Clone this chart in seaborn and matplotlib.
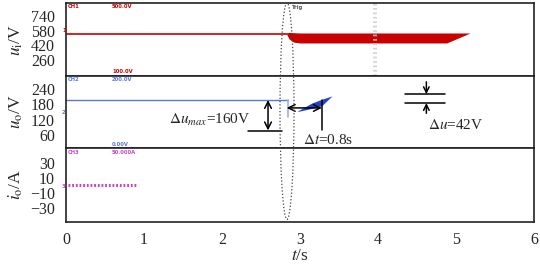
import numpy as np
import pandas as pd
import seaborn as sns
import matplotlib.pyplot as plt
from matplotlib.patches import Ellipse

# input voltage u_i (V)
t_ui = [0.0, 2.83]
ui = [545, 545]
t_band = [2.83, 2.86, 2.92, 3.0, 4.88, 5.18]
band_top = [555, 562, 558, 555, 555, 555]
band_bot = [540, 490, 455, 446, 446, 555]

# output voltage u_o (V)
t_uo = [0.0, 2.85]
uo = [197, 197]
t_drop = [2.85, 2.85]
uo_drop = [197, 130]
t_wedge = [2.97, 3.15, 3.28, 3.41]
wedge_top = [154, 185, 200, 213]
wedge_bot = [152, 164, 175, 213]

# output current i_o (A)
t_io = [0.02, 0.9]
io = [0, 0]

x_ticks = [0, 1, 2, 3, 4, 5, 6]
ui_ticks = [260, 420, 580, 740]
uo_ticks = [60, 120, 180, 240]
io_ticks = [-30, -10, 10, 30]

sns.set_style("white")
plt.rcParams['font.family'] = ['Liberation Serif', 'DejaVu Serif']
plt.rcParams['mathtext.fontset'] = 'stix'

fig = plt.figure(figsize=(5.4, 2.65), dpi=100)
L, W = 66 / 540, 468 / 540
ax1 = fig.add_axes([L, 1 - 76 / 265, W, 73 / 265])
ax2 = fig.add_axes([L, 1 - 148 / 265, W, 72 / 265])
ax3 = fig.add_axes([L, 1 - 222 / 265, W, 74 / 265])

red = "#c80000"
blue = "#5a78dc"
mag = "#cc44cc"

sns.lineplot(x=t_ui, y=ui, ax=ax1, color=red, lw=1.2)
ax1.fill_between(t_band, band_bot, band_top, color=red, lw=0)
ax1.axvline(3.95, color="#cccccc", ls=":", lw=1.2)
ax1.axvline(3.97, color="#cccccc", ls=":", lw=1.2)

sns.lineplot(x=t_uo, y=uo, ax=ax2, color=blue, lw=1.0)
ax2.plot(t_drop, uo_drop, color="#9fb0e8", lw=1.2)
ax2.fill_between(t_wedge, wedge_bot, wedge_top, color="#2244cc", lw=0)

ax3.plot(t_io, io, color=mag, lw=2.2, ls=(0, (0.6, 0.6)))

for ax, lim, ticks, lab in [(ax1, (86, 882), ui_ticks, r'$u_{\mathrm{i}}$/V'),
                            (ax2, (9, 291), uo_ticks, r'$u_{\mathrm{o}}$/V'),
                            (ax3, (-49, 50), io_ticks, r'$i_{\mathrm{o}}$/A')]:
    ax.set_xlim(0, 6)
    ax.set_ylim(*lim)
    ax.set_yticks(ticks)
    ax.set_ylabel(lab, fontsize=12.5)
    ax.tick_params(axis='y', direction='in', length=7, width=1, pad=8, labelsize=11.5)
    ax.tick_params(axis='x', direction='in', length=4, width=1, pad=7, labelsize=11.5)
    for s in ax.spines.values():
        s.set_color("#222222")
        s.set_linewidth(1.2)
    ax.yaxis.set_label_coords(-0.088, 0.5)

ax1.set_xticks([])
ax2.set_xticks([])
ax3.set_xticks(x_ticks)
ax3.set_xlabel(r'$t$/s', fontsize=12.5, labelpad=0)

# annotations on u_o panel
arw = dict(arrowstyle='<->', color='black', lw=1.1, mutation_scale=12, shrinkA=0, shrinkB=0)
ax2.annotate('', xy=(2.59, 197), xytext=(2.59, 78), arrowprops=arw)
ax2.plot([2.33, 2.77], [76, 76], color='black', lw=1.1)
ax2.text(2.37, 119, r'$\mathit{\Delta u_{max}}$=160V', fontsize=11, ha='right', va='center')
ax2.annotate('', xy=(2.83, 166), xytext=(3.28, 166), arrowprops=arw)
ax2.plot([3.28, 3.28], [197, 80], color='black', lw=1.1)
ax2.text(3.04, 40, r'$\mathit{\Delta t}$=0.8s', fontsize=11, ha='left', va='center')
ax2.plot([4.35, 4.86], [220, 220], color='black', lw=1.1)
ax2.plot([4.35, 4.86], [185, 185], color='black', lw=1.1)
one = dict(arrowstyle='->', color='black', lw=1.1, mutation_scale=10, shrinkA=0, shrinkB=0)
ax2.annotate('', xy=(4.62, 220), xytext=(4.62, 268), arrowprops=one)
ax2.annotate('', xy=(4.62, 185), xytext=(4.62, 145), arrowprops=one)
ax2.text(4.64, 99, r'$\mathit{\Delta u}$=42V', fontsize=11, ha='left', va='center')

# scope channel labels
sm = dict(fontsize=3.8, family='DejaVu Sans', fontweight='bold', va='center')
fig.text(68 / 540, 1 - 6 / 265, 'CH1', color=red, **sm)
fig.text(112 / 540, 1 - 6 / 265, '500.0V', color=red, **sm)
fig.text(112 / 540, 1 - 72 / 265, '100.0V', color=red, **sm)
fig.text(68 / 540, 1 - 80 / 265, 'CH2', color=blue, **sm)
fig.text(112 / 540, 1 - 80 / 265, '200.0V', color=blue, **sm)
fig.text(112 / 540, 1 - 144 / 265, '0.00V', color=blue, **sm)
fig.text(68 / 540, 1 - 152 / 265, 'CH3', color=mag, **sm)
fig.text(112 / 540, 1 - 152 / 265, '50.000A', color=mag, **sm)
fig.text(62 / 540, 1 - 30 / 265, '1', color=red, **sm)
fig.text(62 / 540, 1 - 112 / 265, '2', color=blue, **sm)
fig.text(62 / 540, 1 - 187 / 265, '3', color=mag, **sm)
fig.text(291 / 540, 1 - 8 / 265, 'Trig', color='#555555', **sm)

# dotted ellipse marking the switching instant
fig.patches.append(Ellipse((287 / 540, 1 - 111 / 265), 14 / 540, 217 / 265,
                           transform=fig.transFigure, fill=False, ls=':',
                           lw=0.9, ec='#444444'))

fig.savefig("out.png", dpi=100)
